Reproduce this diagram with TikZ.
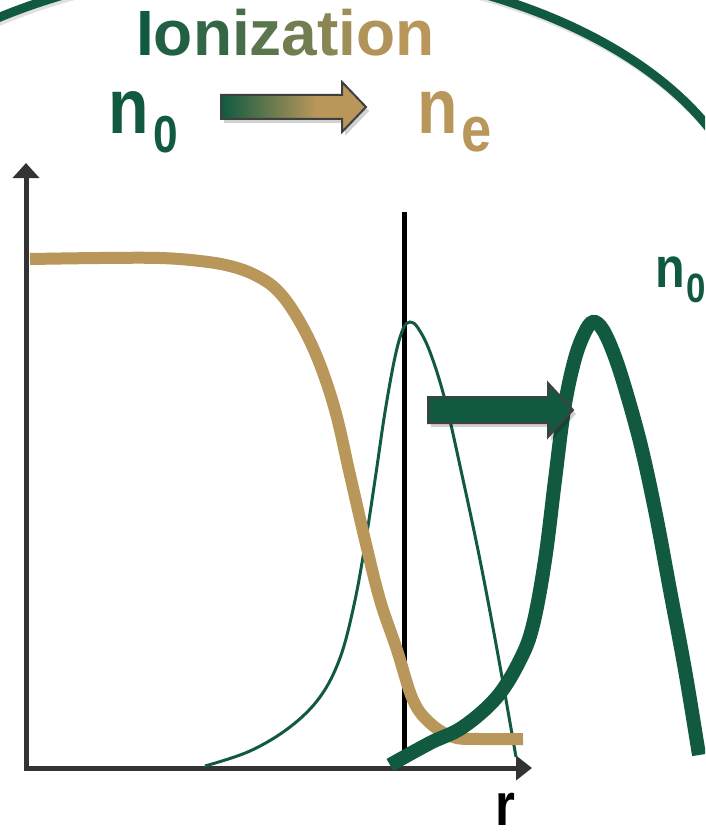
\documentclass[tikz,border=0pt]{standalone}
\usepackage{fontspec}
\setmainfont{Liberation Sans}
\usepackage{graphicx}
\usetikzlibrary{arrows.meta}
\definecolor{ngreen}{RGB}{17,90,64}
\definecolor{ntan}{RGB}{185,151,91}
\definecolor{axisgray}{RGB}{51,51,51}
\definecolor{outl}{RGB}{64,64,64}
\pgfdeclarehorizontalshading{iongrad}{100bp}{color(0bp)=(ngreen); color(25bp)=(ngreen); color(40bp)=(ngreen!55!ntan); color(58bp)=(ntan); color(100bp)=(ntan)}
\newcommand{\fsz}[1]{\fontsize{#1}{#1}\selectfont\bfseries}
\newcommand{\nar}[1]{\scalebox{0.85}[1]{#1}}
\begin{document}
\begin{tikzpicture}[x=1pt,y=-1pt,
  lbl/.style={inner sep=0pt, anchor=base west},
  rim/.style={ngreen, line width=9pt},
  thinplot/.style={ngreen, line width=3pt},
  thickplot/.style={ngreen, line width=14pt},
  tanplot/.style={ntan, line width=12pt},
  axisline/.style={axisgray, line width=5pt},
  blockarrow/.style={draw=outl, line width=2pt, line join=miter},
  shadowfill/.style={fill=black, opacity=0.18}]
\useasboundingbox (0,0) rectangle (705,832);
\clip (0,0) rectangle (705,832);
% outer rim (ellipse arc)
\draw[black, opacity=0.12, line width=9pt] (-31.5,35.2) arc[start angle=-130, end angle=-20, x radius=480, y radius=283];
\draw[rim] (-33.5,32.2) arc[start angle=-130, end angle=-20, x radius=480, y radius=283];
% title
\node[lbl, font=\fsz{64}] (title) at (136,56) {\textcolor{ngreen}{I}\textcolor{ntan!10!ngreen}{o}\textcolor{ntan!20!ngreen}{n}\textcolor{ntan!32!ngreen}{i}\textcolor{ntan!44!ngreen}{z}\textcolor{ntan!58!ngreen}{a}\textcolor{ntan!72!ngreen}{t}\textcolor{ntan!85!ngreen}{i}\textcolor{ntan!95!ngreen}{o}\textcolor{ntan}{n}};
% n0 -> ne
\node[lbl, font=\fsz{78}, text=ngreen] (nzero) at (108.6,133) {\nar{n}};
\node[lbl, font=\fsz{52}, text=ngreen] (nzerosub) at (153,152) {\nar{0}};
\node[lbl, font=\fsz{78}, text=ntan] (nel) at (417.6,133) {\nar{n}};
\node[lbl, font=\fsz{64}, text=ntan] (nelsub) at (461,151) {\nar{e}};
\fill[shadowfill] (224,99) -- (345,99) -- (345,86) -- (369,111) -- (345,136) -- (345,123) -- (224,123) -- cycle;
\shadedraw[blockarrow, shading=iongrad] (221,95) -- (342,95) -- (342,82) -- (366,107) -- (342,132) -- (342,119) -- (221,119) -- cycle;
% axes
\coordinate (origin) at (26,768);
\coordinate (ytop) at (26,163);
\coordinate (xend) at (532,768);
\draw[axisline, -{Triangle[length=15pt,width=26pt]}] ([yshift=-2.5pt]origin) -- (ytop);
\draw[axisline, -{Triangle[length=16pt,width=24pt]}] ([xshift=-2.5pt]origin) -- (xend);
% vertical boundary line
\coordinate (btop) at (404.5,212);
\coordinate (bbot) at (404.5,755);
\draw[black, line width=5pt] (btop) -- (bbot);
% thin green profile
\draw[thinplot] plot[smooth, tension=0.6] coordinates {(205,766) (250,751) (290,727) (320,697) (340,658) (354,605) (365,545) (375,480) (385,412) (395,357) (403,329) (410,322) (418,328) (430,352) (445,400) (462,475) (480,560) (498,655) (516,757)};
% tan profile
\draw[tanplot] plot[smooth, tension=0.6] coordinates {(30,259) (100,258) (160,258) (200,261) (230,266) (255,275) (277,290) (297,317) (317,357) (335,410) (350,475) (365,540) (380,600) (397,650) (413,700) (430,723) (453,737) (480,739) (523,739)};
% thick green profile
\draw[thickplot] plot[smooth, tension=0.6] coordinates {(390,765) (430,743) (463,727) (497,697) (520,660) (533,625) (545,560) (555,480) (564,410) (574,362) (584,334) (593,322) (603,330) (615,357) (628,398) (642,450) (656,515) (670,590) (685,670) (699,755)};
% moving arrow
\fill[shadowfill] (431,401) -- (551,401) -- (551,387) -- (576,414) -- (551,441) -- (551,427) -- (431,427) -- cycle;
\draw[blockarrow, fill=ngreen] (428,397) -- (548,397) -- (548,383) -- (573,410) -- (548,437) -- (548,423) -- (428,423) -- cycle;
% right labels
\node[lbl, font=\fsz{57}, text=ngreen] (nzeroright) at (654.8,287) {\nar{n}};
\node[lbl, font=\fsz{41}, text=ngreen] (nzerorightsub) at (686.6,302) {\nar{0}};
\node[lbl, font=\fsz{60}, text=black] (rlabel) at (495,825) {\nar{r}};
\end{tikzpicture}
\end{document}
